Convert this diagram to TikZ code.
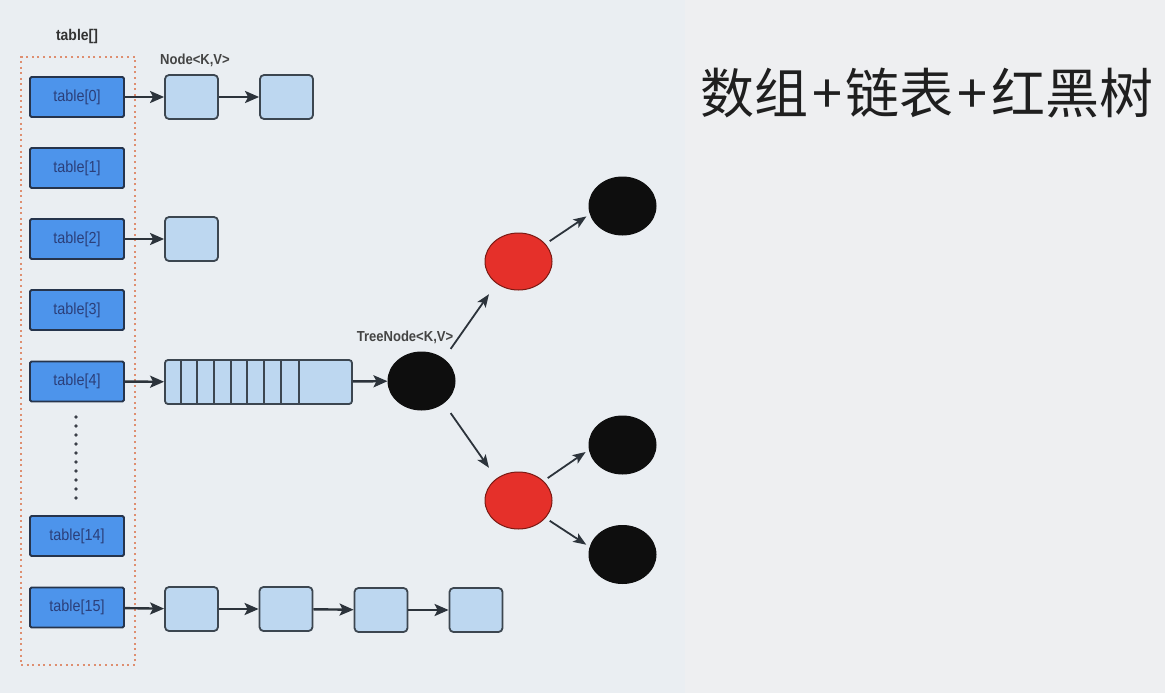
\documentclass[tikz,border=0pt]{standalone}
\usepackage{fontspec}
\setmainfont{Liberation Sans}
\newfontfamily\lbl[FakeStretch=0.9]{Liberation Sans}
\newfontfamily\cjk{Noto Sans CJK SC}
\usetikzlibrary{arrows.meta,calc,shapes.geometric}
\definecolor{bgR}{HTML}{EEEFF1}
\definecolor{bgL}{HTML}{EAEEF2}
\definecolor{tblfill}{HTML}{4D94EB}
\definecolor{tblborder}{HTML}{26344C}
\definecolor{tbltext}{HTML}{2B3F7A}
\definecolor{ndfill}{HTML}{BDD7F0}
\definecolor{ndborder}{HTML}{3C4650}
\definecolor{arrcol}{HTML}{2C333B}
\definecolor{redfill}{HTML}{E5302A}
\definecolor{redborder}{HTML}{7A1A14}
\definecolor{blk}{HTML}{0E0E0E}
\definecolor{framecol}{HTML}{DE8E70}
\definecolor{labelcol}{HTML}{444444}
\definecolor{dotcol}{HTML}{3A3F48}
\begin{document}
\begin{tikzpicture}[x=1pt,y=-1pt,
  tbl/.style={draw=tblborder, fill=tblfill, line width=1.8pt, minimum width=94pt, minimum height=40pt, inner sep=0pt, rounded corners=1.5pt, font=\lbl\fontsize{16}{17}\selectfont, text=tbltext},
  nd/.style={draw=ndborder, fill=ndfill, line width=1.8pt, minimum width=53pt, minimum height=44pt, rounded corners=4pt, inner sep=0pt},
  lab/.style={font=\lbl\bfseries\fontsize{14.5}{16}\selectfont, text=labelcol, inner sep=0pt},
  arr/.style={draw=arrcol, line width=2.4pt, -{Stealth[length=14pt,width=12pt,inset=3pt]}},
  tarr/.style={draw=arrcol, line width=1.8pt, -{Stealth[length=13pt,width=10pt,inset=3pt]}},
  blackn/.style={ellipse, fill=blk, draw=blk, line width=1pt, minimum width=67pt, minimum height=58pt, inner sep=0pt},
  redn/.style={ellipse, fill=redfill, draw=redborder, line width=1pt, minimum width=67pt, minimum height=57pt, inner sep=0pt}
]
\useasboundingbox (0,0) rectangle (1165,693);
\fill[bgR] (0,0) rectangle (1165,693);
\fill[bgL] (0,0) rectangle (685,693);

% frame
\node[draw=framecol, line width=2.4pt, dash pattern=on 2pt off 3.6pt, minimum width=114pt, minimum height=608pt, inner sep=0pt] (frame) at (78,361) {};
\node[lab, text=black!80, font=\lbl\bfseries\fontsize{15.5}{16}\selectfont] (ltable) at (77,36) {table[]};

% table entries
\node[tbl] (t0) at (77,97) {table[0]};
\node[tbl] (t1) at (77,168) {table[1]};
\node[tbl] (t2) at (77,239) {table[2]};
\node[tbl] (t3) at (77,310) {table[3]};
\node[tbl] (t4) at (77,381.5) {table[4]};
\node[tbl] (t14) at (77,536) {table[14]};
\node[tbl] (t15) at (77,607.5) {table[15]};
\foreach \i in {0,...,9} \fill[dotcol] (76,417+9*\i) circle (1.8);

% linked nodes
\node[lab] (lnode) at (195,60) {Node<K,V>};
\node[nd] (n01) at (191.5,97) {};
\node[nd] (n02) at (286.5,97) {};
\node[nd] (n21) at (191.5,239) {};
\node[nd] (n151) at (191.5,609) {};
\node[nd] (n152) at (286,609) {};
\node[nd] (n153) at (381,610) {};
\node[nd] (n154) at (476,610) {};

\draw[arr] (t0) -- (n01);
\draw[arr] (n01) -- (n02);
\draw[arr] (t2) -- (n21);
\draw[arr] (t15) -- (n151);
\draw[arr] (n151) -- (n152);
\draw[arr] (n152) -- (n153);
\draw[arr] (n153) -- (n154);

% bucket
\node[nd, minimum width=187pt, rounded corners=3pt] (bucket) at (258.5,382) {};
\foreach \o in {16.7,33,50,67,83,100,117,135}
  \draw[ndborder, line width=1.8pt] ($(bucket.north west)+(\o,0)$) -- ($(bucket.south west)+(\o,0)$);
\draw[arr] (t4) -- (bucket);

% tree
\node[lab] (ltree) at (405,337) {TreeNode<K,V>};
\node[blackn] (tn) at (421.5,381) {};
\node[redn] (r1) at (518.5,261.5) {};
\node[redn] (r2) at (518.5,500.5) {};
\node[blackn] (b1) at (622.5,206) {};
\node[blackn] (b2) at (622.5,445) {};
\node[blackn] (b3) at (622.5,554.5) {};
\draw[arr] (bucket) -- (tn);
\draw[tarr, shorten <=12pt, shorten >=13pt] (tn.45) -- (r1.225);
\draw[tarr, shorten <=12pt, shorten >=13pt] (tn.-45) -- (r2.135);
\draw[tarr, shorten <=5pt, shorten >=4pt] (r1.33) -- (b1.194);
\draw[tarr, shorten <=5pt, shorten >=4pt] (r2.38) -- (b2.188);
\draw[tarr, shorten <=5pt, shorten >=4pt] (r2.-33) -- (b3.167);

% title
\node[font=\cjk\fontsize{54}{60}\selectfont, text=black!88, inner sep=0pt] (title) at (927,93) {数组\hspace{4pt}+\hspace{4pt}链表\hspace{4pt}+\hspace{4pt}红黑树};
\end{tikzpicture}
\end{document}
